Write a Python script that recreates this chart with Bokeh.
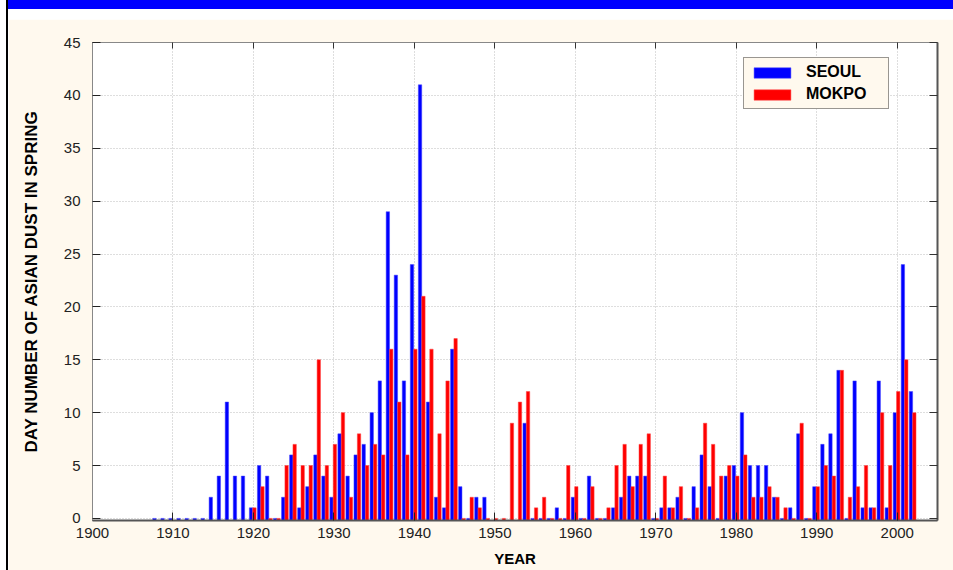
from bokeh.plotting import figure
from bokeh.models import (Range1d, LinearAxis, FixedTicker, Legend, LegendItem,
                          ColumnDataSource, Div, Row, Column)
from bokeh.embed import file_html
from bokeh.resources import INLINE

NaN = float("nan")

# ---- data (days of Asian dust in spring) ----
years = list(range(1908, 2003))
seoul = [0, 0, 0, 0, 0, 0, 0, 2, 4, 11, 4, 4,            # 1908-1919
         1, 5, 4, 0, 2, 6, 1, 3, 6, 4,                    # 1920-1929
         2, 8, 4, 6, 7, 10, 13, 29, 23, 13,               # 1930-1939
         24, 41, 11, 2, 1, 16, 3, 0, 2, 2,                # 1940-1949
         NaN, NaN, NaN, NaN, 9, 0, 0, 0, 1, 0,            # 1950-1959
         2, 0, 4, 0, 0, 1, 2, 4, 4, 4,                    # 1960-1969
         0, 1, 1, 2, 0, 3, 6, 3, 0, 4,                    # 1970-1979
         5, 10, 5, 5, 5, 2, 0, 1, 8, 0,                   # 1980-1989
         3, 7, 8, 14, 0, 13, 1, 1, 13, 1,                 # 1990-1999
         10, 24, 12]                                      # 2000-2002
mokpo = [NaN] * 12 + [                                    # 1908-1919
         1, 3, 0, 0, 5, 7, 5, 5, 15, 5,                   # 1920-1929
         7, 10, 2, 8, 5, 7, 6, 16, 11, 6,                 # 1930-1939
         16, 21, 16, 8, 13, 17, 0, 2, 1, 0,               # 1940-1949
         0, 0, 9, 11, 12, 1, 2, 0, 0, 5,                  # 1950-1959
         3, 0, 3, 0, 1, 5, 7, 3, 7, 8,                    # 1960-1969
         0, 4, 1, 3, 0, 1, 9, 7, 4, 5,                    # 1970-1979
         4, 6, 2, 2, 3, 2, 1, 0, 9, 0,                    # 1980-1989
         3, 5, 4, 14, 2, 3, 5, 1, 10, 5,                  # 1990-1999
         12, 15, 10]                                      # 2000-2002
series_names = ["SEOUL", "MOKPO"]
x_ticks = list(range(1900, 2001, 10))
y_ticks = list(range(0, 46, 5))

# ---- styling ----
W, H = 945, 551
CREAM = "#FFF9EE"
FONT = "Liberation Sans"
Y0 = -0.2

p = figure(width=W, height=H, x_range=Range1d(1900, 2005), y_range=Range1d(Y0, 45),
           output_backend="svg", toolbar_location=None, margin=0,
           min_border_left=84, min_border_right=16, min_border_top=23, min_border_bottom=50)
p.background_fill_color = "white"
p.border_fill_color = CREAM
p.outline_line_color = "#777777"
p.outline_line_width = 1

src = ColumnDataSource(dict(
    xs=[y - 0.30 for y in years], xm=[y + 0.12 for y in years],
    seoul=seoul, mokpo=mokpo, base=[Y0] * len(years)))

rb = p.vbar(x="xs", width=0.42, top="seoul", bottom="base", source=src,
            fill_color="#0000FF", line_color="#4444FF", line_width=0.5)
rr = p.vbar(x="xm", width=0.42, top="mokpo", bottom="base", source=src,
            fill_color="#FF0000", line_color="#FF4444", line_width=0.5)

# grids
p.xgrid.ticker = FixedTicker(ticks=x_ticks)
p.ygrid.ticker = FixedTicker(ticks=y_ticks)
for g in (p.xgrid, p.ygrid):
    g.grid_line_color = "#BDBDBD"
    g.grid_line_dash = "1 2"
    g.grid_line_width = 1

# main axes
xa = p.xaxis[0]
xa.ticker = FixedTicker(ticks=x_ticks)
xa.axis_label = "YEAR"
ya = p.yaxis[0]
ya.ticker = FixedTicker(ticks=y_ticks)
ya.axis_label = "DAY NUMBER OF ASIAN DUST IN SPRING"
for a in (xa, ya):
    a.major_tick_in = 8
    a.major_tick_out = 0
    a.major_tick_line_color = "#222222"
    a.minor_tick_line_color = None
    a.major_label_text_font = FONT
    a.major_label_text_font_size = "15px"
    a.major_label_text_color = "#222222"
    a.axis_label_text_font = FONT
    a.axis_label_text_font_style = "bold"
    a.axis_label_text_color = "#000000"
xa.axis_line_color = "#555555"
xa.axis_line_width = 2
xa.major_label_standoff = 7
xa.axis_label_standoff = 9
xa.axis_label_text_font_size = "15px"
ya.axis_line_color = "#888888"
ya.major_label_standoff = 12
ya.axis_label_standoff = 20
ya.axis_label_text_font_size = "17px"

# tick-only axes on top and right (labels not drawn)
top = LinearAxis(ticker=FixedTicker(ticks=x_ticks), major_tick_in=6, major_tick_out=0,
                 minor_tick_line_color=None, major_label_text_font_size="0px",
                 major_label_text_color=None,
                 major_label_standoff=0, axis_line_color="#888888",
                 major_tick_line_color="#333333")
p.add_layout(top, "above")
right = LinearAxis(ticker=FixedTicker(ticks=y_ticks), major_tick_in=8, major_tick_out=0,
                   minor_tick_line_color=None, major_label_text_font_size="0px",
                   major_label_text_color=None,
                   major_label_standoff=0, axis_line_color="#555555", axis_line_width=2,
                   major_tick_line_color="#333333")
p.add_layout(right, "right")

# legend
legend = Legend(items=[LegendItem(label=series_names[0], renderers=[rb]),
                       LegendItem(label=series_names[1], renderers=[rr])],
                location=(651, 411), margin=0, padding=5, spacing=4,
                glyph_width=46, glyph_height=13, label_standoff=11, label_width=77,
                label_height=18,
                label_text_font=FONT, label_text_font_style="bold",
                label_text_font_size="16px", label_text_color="#000000",
                border_line_color="#333333", border_line_width=1,
                background_fill_color=CREAM, background_fill_alpha=1)
p.add_layout(legend)

# page frame: left rule, blue title band, white gap
left_rule = Div(text="", width=8, height=570, margin=0,
                styles={"background-color": "white", "border-right": "2px solid black",
                        "box-sizing": "border-box"})
band = Div(text="", width=W, height=9, margin=0, styles={"background-color": "#0000FF"})
gap = Div(text="", width=W, height=10, margin=0, styles={"background-color": "white"})
page = Row(children=[left_rule, Column(children=[band, gap, p], spacing=0, margin=0)],
           spacing=0, margin=0)

open("out.html", "w").write(file_html(page, INLINE))
